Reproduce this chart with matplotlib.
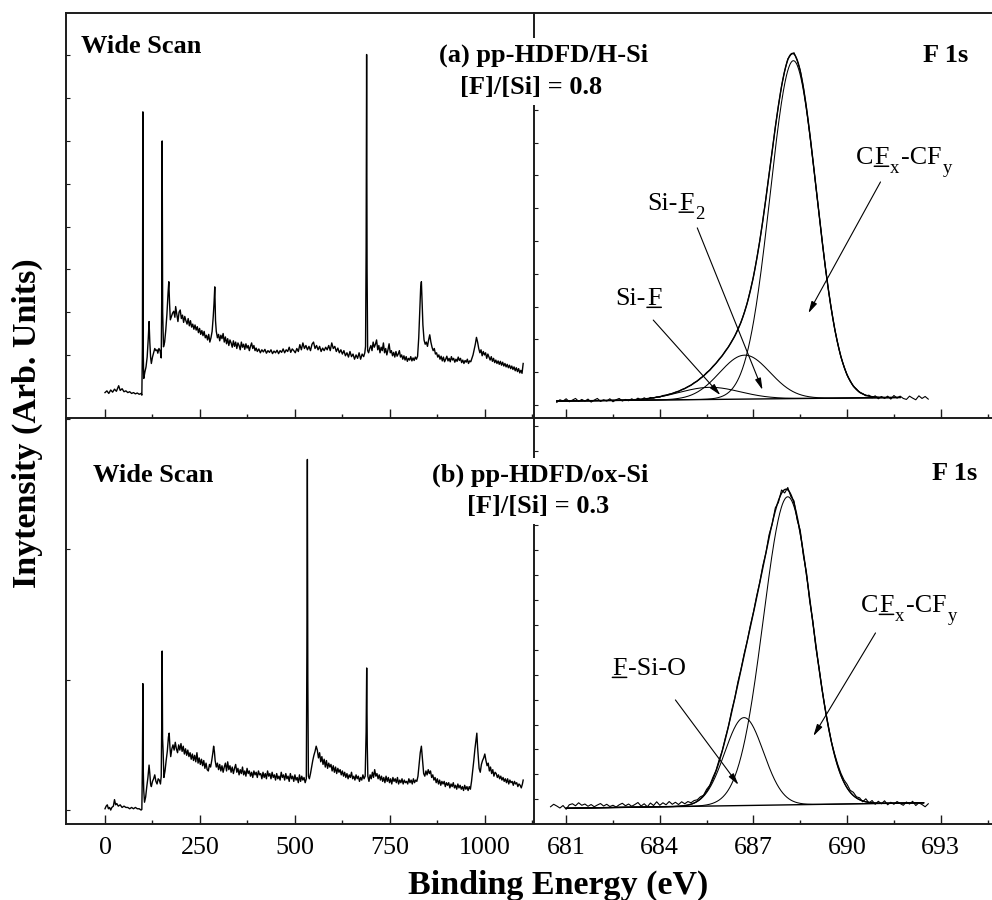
import numpy as np
import matplotlib
matplotlib.use("Agg")
import matplotlib.pyplot as plt
from matplotlib.ticker import MultipleLocator, FuncFormatter

plt.rcParams['font.family'] = ['Liberation Serif', 'DejaVu Serif']

# ---------------- wide scans: (binding energy / eV, intensity) ----------------
wide_a = [
    (0, .12), (5, .16), (10, .10), (15, .18), (20, .13), (25, .20), (30, .15), (36, .28), (40, .17), (45, .21),
    (50, .14), (55, .16), (60, .12), (65, .14), (70, .10), (75, .12), (80, .09), (85, .11), (90, .08), (95, .10),
    (97, .06), (98.5, 1.2), (99.7, 6.68), (100.8, 1.0), (102, .45), (105, .60), (108, .72), (111, .95), (114, 1.40), (116, 1.78),
    (118, 1.30), (120, .95), (122, .80), (125, .95), (128, 1.05), (131, 1.15), (134, 1.10), (137, 1.12), (139, 1.04), (142, 1.15),
    (145, 1.10), (148, .93), (149.5, 2.5), (150.5, 6.00), (151.8, 2.0), (154, 1.19), (157, 1.30), (160, 1.58), (163, 1.95), (166, 2.45),
    (168, 2.71), (170, 2.20), (172, 1.82), (175, 1.90), (178, 1.98), (181, 2.02), (184, 1.88), (186, 2.13), (189, 1.95), (192, 1.78),
    (195, 2.00), (198, 2.05), (201, 1.85), (204, 1.93), (207, 1.76), (210, 1.90), (213, 1.80), (216, 1.72), (219, 1.85), (222, 1.68),
    (225, 1.80), (228, 1.65), (231, 1.72), (234, 1.60), (237, 1.70), (240, 1.58), (243, 1.66), (246, 1.52), (249, 1.62), (252, 1.48),
    (255, 1.57), (258, 1.45), (261, 1.55), (264, 1.40), (267, 1.46), (270, 1.35), (273, 1.48), (276, 1.30), (279, 1.40), (282, 1.55),
    (285, 1.90), (287, 2.20), (289, 2.59), (291, 1.80), (293, 1.55), (296, 1.40), (299, 1.48), (302, 1.33), (305, 1.46), (308, 1.38),
    (311, 1.50), (314, 1.30), (317, 1.42), (320, 1.26), (323, 1.38), (326, 1.22), (329, 1.35), (332, 1.28), (335, 1.18), (338, 1.33),
    (341, 1.20), (344, 1.30), (347, 1.15), (350, 1.28), (353, 1.22), (356, 1.12), (359, 1.30), (362, 1.18), (365, 1.25), (368, 1.13),
    (371, 1.26), (374, 1.16), (377, 1.22), (380, 1.10), (383, 1.20), (386, 1.28), (389, 1.15), (392, 1.22), (395, 1.10), (398, 1.16),
    (401, 1.08), (405, 1.14), (409, 1.05), (413, 1.12), (417, 1.07), (421, 1.13), (425, 1.04), (429, 1.10), (433, 1.06), (437, 1.12),
    (441, 1.03), (445, 1.09), (449, 1.05), (453, 1.11), (457, 1.03), (461, 1.10), (465, 1.06), (469, 1.14), (473, 1.05), (477, 1.12),
    (481, 1.08), (485, 1.18), (489, 1.06), (493, 1.14), (497, 1.10), (501, 1.05), (505, 1.15), (509, 1.08), (513, 1.24), (517, 1.12),
    (521, 1.28), (525, 1.15), (529, 1.22), (533, 1.12), (537, 1.20), (541, 1.10), (545, 1.25), (549, 1.30), (553, 1.15), (557, 1.22),
    (561, 1.12), (565, 1.20), (569, 1.08), (573, 1.16), (577, 1.10), (581, 1.18), (585, 1.12), (589, 1.22), (593, 1.10), (597, 1.28),
    (601, 1.15), (605, 1.20), (609, 1.08), (613, 1.16), (617, 1.05), (621, 1.12), (625, 1.02), (629, 1.10), (633, .98), (637, 1.05),
    (641, .95), (645, 1.08), (649, .96), (653, 1.02), (657, .90), (661, 1.00), (665, .92), (669, 1.05), (673, .90), (677, 1.02),
    (681, .96), (684, 1.05), (686, 1.20), (687.5, 3.5), (688.8, 8.02), (690, 3.0), (691.5, 1.10), (694, 1.05), (697, 1.15), (700, 1.22),
    (703, 1.10), (706, 1.30), (709, 1.18), (712, 1.25), (715, 1.35), (718, 1.12), (721, 1.22), (724, 1.05), (727, 1.18), (730, 1.10),
    (733, 1.28), (736, 1.05), (739, 1.15), (742, 1.00), (745, 1.12), (748, 1.26), (751, 1.05), (754, 1.10), (757, .98), (760, 1.06),
    (763, .95), (766, 1.08), (769, .97), (772, 1.02), (775, 1.10), (778, .95), (781, 1.00), (784, .90), (787, .98), (790, .88),
    (793, .96), (796, .85), (799, .92), (802, .88), (805, .96), (808, .86), (811, .93), (814, .87), (817, .95), (820, .90),
    (823, .97), (826, 1.40), (829, 2.10), (831, 2.55), (833, 2.71), (835, 2.20), (837, 1.70), (840, 1.35), (843, 1.25), (846, 1.30),
    (849, 1.20), (852, 1.35), (855, 1.47), (858, 1.30), (861, 1.18), (864, 1.10), (867, 1.15), (870, 1.02), (873, 1.05), (876, .95),
    (879, 1.00), (882, .90), (885, .97), (888, .86), (891, .95), (894, .84), (897, .90), (900, .97), (903, .86), (906, .92),
    (909, .84), (912, .96), (915, .88), (918, .92), (921, .83), (924, .90), (927, .85), (930, .95), (933, .87), (936, .92),
    (939, .82), (942, .88), (945, .80), (948, .87), (951, .83), (954, .90), (957, .80), (960, .86), (963, .84), (966, .92),
    (969, 1.00), (972, 1.12), (975, 1.25), (978, 1.41), (981, 1.30), (984, 1.15), (987, 1.05), (990, 1.12), (993, .98), (996, 1.08),
    (999, 1.00), (1002, 1.05), (1005, .92), (1008, 1.02), (1011, .95), (1014, .88), (1017, .96), (1020, .85), (1023, .92), (1026, .82),
    (1029, .88), (1032, .80), (1035, .86), (1038, .78), (1041, .85), (1044, .76), (1047, .83), (1050, .74), (1053, .80), (1056, .72),
    (1059, .78), (1062, .70), (1065, .76), (1068, .68), (1071, .74), (1074, .66), (1077, .72), (1080, .63), (1083, .70), (1086, .61),
    (1089, .68), (1092, .58), (1095, .64), (1098, .57), (1101, .80),
]

wide_b = [
    (0, .01), (3, .03), (6, .04), (9, .01), (12, .02), (15, .00), (18, .02), (22, .03), (25, .08), (28, .04),
    (31, .05), (35, .03), (40, .04), (45, .02), (50, .03), (55, .02), (60, .02), (65, .01), (70, .02), (75, .01),
    (80, .02), (85, .01), (90, .01), (95, .00), (97, .005), (98.5, .35), (99.7, .97), (100.8, .30), (102, .15), (104, .06),
    (107, .10), (110, .18), (113, .25), (116, .345), (118, .28), (120, .20), (122, .18), (125, .22), (128, .24), (131, .27),
    (134, .22), (137, .20), (140, .24), (143, .23), (146, .20), (148, .26), (149.5, .70), (150.5, 1.22), (151.6, .55), (153, .45),
    (155, .25), (158, .30), (161, .38), (164, .45), (167, .56), (169, .59), (171, .48), (173, .41), (176, .47), (179, .50),
    (182, .46), (185, .52), (188, .47), (191, .44), (194, .50), (197, .46), (200, .51), (203, .45), (206, .49), (209, .43),
    (212, .47), (215, .42), (218, .46), (221, .41), (224, .44), (227, .39), (230, .43), (233, .38), (236, .42), (239, .37),
    (242, .44), (245, .36), (248, .40), (251, .35), (254, .39), (257, .34), (260, .38), (263, .32), (266, .36), (269, .31),
    (272, .30), (275, .35), (278, .33), (281, .38), (284, .44), (286, .49), (288, .45), (290, .38), (293, .33), (296, .36),
    (299, .31), (302, .35), (305, .30), (308, .34), (311, .29), (314, .33), (317, .36), (320, .30), (323, .37), (326, .31),
    (329, .34), (332, .29), (335, .33), (338, .28), (341, .32), (344, .35), (347, .29), (350, .32), (353, .27), (356, .31),
    (359, .28), (362, .33), (365, .27), (368, .30), (371, .26), (374, .32), (377, .28), (380, .30), (383, .26), (386, .29),
    (389, .25), (392, .30), (395, .27), (398, .29), (401, .25), (404, .30), (407, .27), (410, .28), (413, .24), (416, .29),
    (419, .25), (422, .28), (425, .24), (428, .30), (431, .26), (434, .28), (437, .24), (440, .29), (443, .25), (446, .27),
    (449, .23), (452, .28), (455, .24), (458, .26), (461, .23), (464, .29), (467, .25), (470, .27), (473, .23), (476, .28),
    (479, .24), (482, .26), (485, .22), (488, .28), (491, .24), (494, .26), (497, .22), (500, .27), (503, .23), (506, .25),
    (509, .21), (512, .27), (515, .22), (518, .26), (521, .23), (524, .25), (527, .21), (530, .24), (531.5, 1.2), (532.8, 2.69),
    (534, 1.0), (535.5, .26), (538, .24), (541, .28), (544, .33), (547, .38), (550, .42), (553, .45), (556, .49), (559, .46),
    (562, .40), (565, .44), (568, .37), (571, .41), (574, .35), (577, .39), (580, .33), (583, .38), (586, .32), (589, .36),
    (592, .33), (595, .35), (598, .30), (601, .34), (604, .29), (607, .33), (610, .28), (613, .32), (616, .29), (619, .31),
    (622, .27), (625, .30), (628, .26), (631, .29), (634, .25), (637, .28), (640, .24), (643, .27), (646, .25), (649, .29),
    (652, .24), (655, .26), (658, .23), (661, .27), (664, .24), (667, .26), (670, .22), (673, .25), (676, .23), (679, .27),
    (682, .24), (685, .26), (687.5, .60), (689, 1.09), (690.5, .50), (692, .26), (695, .22), (698, .27), (701, .24), (704, .29),
    (707, .25), (710, .31), (713, .26), (716, .28), (719, .24), (722, .27), (725, .23), (728, .26), (731, .22), (734, .25),
    (737, .21), (740, .26), (743, .22), (746, .25), (749, .21), (752, .24), (755, .20), (758, .25), (761, .22), (764, .24),
    (767, .21), (770, .25), (773, .20), (776, .23), (779, .21), (782, .24), (785, .20), (788, .23), (791, .21), (794, .22),
    (797, .20), (800, .24), (803, .21), (806, .23), (809, .20), (812, .24), (815, .21), (818, .23), (821, .22), (824, .26),
    (827, .35), (830, .44), (833, .49), (836, .38), (839, .28), (842, .26), (845, .30), (848, .27), (851, .31), (854, .28),
    (857, .30), (860, .25), (863, .27), (866, .23), (869, .25), (872, .21), (875, .24), (878, .20), (881, .23), (884, .19),
    (887, .22), (890, .20), (893, .22), (896, .18), (899, .21), (902, .19), (905, .21), (908, .17), (911, .20), (914, .18),
    (917, .21), (920, .17), (923, .19), (926, .16), (929, .20), (932, .17), (935, .19), (938, .16), (941, .18), (944, .15),
    (947, .19), (950, .16), (953, .18), (956, .15), (959, .18), (962, .16), (965, .22), (968, .30), (971, .38), (974, .47),
    (977, .54), (979, .59), (981, .48), (983, .40), (985, .32), (988, .29), (991, .35), (994, .38), (997, .40), (1000, .43),
    (1003, .38), (1006, .34), (1009, .36), (1012, .30), (1015, .33), (1018, .28), (1021, .31), (1024, .26), (1027, .29), (1030, .28),
    (1033, .25), (1036, .27), (1039, .24), (1042, .26), (1045, .23), (1048, .25), (1051, .22), (1054, .24), (1057, .21), (1060, .24),
    (1063, .20), (1066, .23), (1069, .21), (1072, .22), (1075, .19), (1078, .22), (1081, .20), (1084, .21), (1087, .18), (1090, .20),
    (1093, .19), (1096, .17), (1099, .20), (1101, .23),
]

# ---------------- F 1s high-resolution spectra (0.1 eV steps) ----------------
f1s_a_start, f1s_a_step = 680.7, 0.1
f1s_a_counts = [
    .08, .16, .12, .19, .10, .15, .20, .11, .17, .12,
    .18, .09, .15, .20, .11, .16, .12, .19, .10, .16,
    .20, .12, .17, .13, .19, .14, .21, .15, .22, .17,
    .23, .21, .25, .24, .29, .30, .33, .35, .39, .41,
    .47, .50, .56, .60, .68, .73, .82, .88, .99, 1.06,
    1.18, 1.27, 1.40, 1.50, 1.65, 1.77, 1.94, 2.10, 2.31, 2.52,
    2.80, 3.11, 3.50, 3.91, 4.43, 4.99, 5.62, 6.31, 7.03, 7.74,
    8.47, 9.12, 9.72, 10.18, 10.55, 10.68, 10.74, 10.50, 10.20, 9.68,
    9.05, 8.31, 7.51, 6.67, 5.83, 5.00, 4.23, 3.52, 2.90, 2.33,
    1.88, 1.47, 1.18, .91, .74, .57, .49, .38, .35, .28,
    .30, .22, .28, .19, .26, .20, .27, .18, .29, .21,
    .27, .20, .17, .27, .21, .16, .28, .20, .26, .18,
]

f1s_b_start, f1s_b_step = 680.5, 0.1
f1s_b_counts = [
    -.30, -.20, -.27, -.35, -.25, -.40, -.22, -.18, -.26, -.14,
    -.24, -.19, -.28, -.21, -.30, -.23, -.17, -.27, -.20, -.29,
    -.24, -.31, -.22, -.16, -.26, -.19, -.28, -.21, -.13, -.27,
    -.18, -.30, -.15, -.25, -.10, -.24, -.14, -.22, -.09, -.20,
    -.12, -.21, -.10, -.18, -.09, -.14, -.05, -.02, .10, .16,
    .40, .56, .88, 1.16, 1.58, 1.95, 2.47, 2.93, 3.55, 4.05,
    4.70, 5.22, 5.83, 6.35, 6.98, 7.52, 8.15, 8.70, 9.38, 9.90,
    10.62, 11.05, 11.70, 11.92, 12.42, 12.30, 12.52, 12.15, 11.98, 11.22,
    10.80, 9.78, 9.10, 7.96, 7.18, 6.08, 5.30, 4.40, 3.62, 2.95,
    2.30, 1.82, 1.40, 1.05, .78, .60, .36, .28, .10, .06,
    -.10, .02, -.15, -.05, -.20, -.08, -.18, -.06, -.22, -.12,
    -.20, -.09, -.17, -.24, -.11, -.19, -.08, -.25, -.14, -.21,
    -.30, -.18,
]

# ---------------- F 1s curve-fit parameters (Gaussian components) ----------------
fit_a_center = [688.28, 686.72, 685.60]   # CFx-CFy, Si-F2, Si-F
fit_a_height = [10.30, 1.34, 0.37]
fit_a_fwhm = [1.75, 1.90, 2.30]
fit_a_base_ev = [680.7, 691.7]
fit_a_base_level = [0.12, 0.23]

fit_b_center = [688.10, 686.70]           # CFx-CFy, F-Si-O
fit_b_height = [12.37, 3.53]
fit_b_fwhm = [1.84, 1.46]
fit_b_base_ev = [681.0, 692.45]
fit_b_base_level = [-0.36, -0.14]

# ---------------- figure layout ----------------
W, H = 992, 900
fig = plt.figure(figsize=(W / 100, H / 100), dpi=100)
fig.patch.set_facecolor('white')
INK = '#1c1c1c'


def panel(x0, y0, x1, y1):
    ax = fig.add_axes([x0 / W, 1 - y1 / H, (x1 - x0) / W, (y1 - y0) / H])
    ax.set_facecolor('none')
    for s in ax.spines.values():
        s.set_linewidth(1.4)
        s.set_color(INK)
    ax.tick_params(which='both', direction='in', top=False, right=False,
                   color=INK, labelcolor='black')
    ax.tick_params(axis='x', which='major', length=6.5, width=1.0,
                   labelsize=18.7, pad=9)
    ax.tick_params(axis='x', which='minor', length=3.2, width=1.0)
    ax.tick_params(axis='y', which='major', length=3.0, width=0.8,
                   labelleft=False)
    ax.yaxis.set_major_locator(MultipleLocator(1))
    return ax


ax_wa = panel(66, 13, 534, 418)
ax_fa = panel(534, 13, 1050, 418)
ax_wb = panel(66, 418, 534, 824)
ax_fb = panel(534, 418, 1050, 824)

for ax in (ax_wa, ax_fa):
    ax.spines['right'].set_visible(False)
    ax.tick_params(axis='x', labelbottom=False)
for ax in (ax_wb, ax_fb):
    ax.spines['right'].set_visible(False)
    ax.spines['top'].set_visible(False)

for ax in (ax_wa, ax_wb):
    ax.set_xlim(-102.7, 1129.5)
    ax.xaxis.set_major_locator(MultipleLocator(250))
    ax.xaxis.set_minor_locator(MultipleLocator(125))
    ax.xaxis.set_major_formatter(FuncFormatter(lambda v, p: '%d' % round(v)))
for ax in (ax_fa, ax_fb):
    ax.set_xlim(679.97, 696.5)
    ax.xaxis.set_major_locator(MultipleLocator(3))
    ax.xaxis.set_minor_locator(MultipleLocator(1.5))
    # the frame runs on past the right edge of the page; label up to 693 only
    ax.xaxis.set_major_formatter(
        FuncFormatter(lambda v, p: '%d' % round(v) if v < 694 else ''))

ax_wa.set_ylim(-0.474, 8.99)
ax_wb.set_ylim(-0.107, 3.008)
ax_fa.set_ylim(-0.396, 11.95)
ax_fb.set_ylim(-0.992, 15.31)

# ---------------- wide scans ----------------
for ax, scan in ((ax_wa, wide_a), (ax_wb, wide_b)):
    ev, cts = zip(*scan)
    ax.plot(ev, cts, color='black', lw=1.0)


# ---------------- F 1s data and fits ----------------
def gaussian(e, center, height, fwhm):
    return height * np.exp(-4 * np.log(2) * (e - center) ** 2 / fwhm ** 2)


def draw_fit(ax, centers, heights, fwhms, base_ev, base_level):
    e = np.linspace(base_ev[0], base_ev[1], 900)
    slope = (base_level[1] - base_level[0]) / (base_ev[1] - base_ev[0])
    base = base_level[0] + slope * (e - base_ev[0])
    total = np.zeros_like(e)
    ax.plot(e, base, color='black', lw=1.0)
    for c, h, w in zip(centers, heights, fwhms):
        g = gaussian(e, c, h, w)
        total += g
        ax.plot(e, base + g, color='black', lw=0.75)
    ax.plot(e, base + total, color='black', lw=1.0)


for ax, start, step, counts in ((ax_fa, f1s_a_start, f1s_a_step, f1s_a_counts),
                                (ax_fb, f1s_b_start, f1s_b_step, f1s_b_counts)):
    e = start + step * np.arange(len(counts))
    ax.plot(e, counts, color='black', lw=0.8)

draw_fit(ax_fa, fit_a_center, fit_a_height, fit_a_fwhm, fit_a_base_ev, fit_a_base_level)
draw_fit(ax_fb, fit_b_center, fit_b_height, fit_b_fwhm, fit_b_base_ev, fit_b_base_level)


# ---------------- component labels (underlined F, subscripts) ----------------
def rich_label(ax, x, y, parts, size=18.7, sub_size=13.5):
    first = prev = None
    for txt, kind in parts:
        fs = sub_size if kind == 's' else size
        if first is None:
            t = ax.text(x, y, txt, fontsize=fs, ha='left', va='baseline')
            first = t
        else:
            dy = -6.0 if kind == 's' else 0.0
            t = ax.annotate(txt, xy=(1, 0), xycoords=(prev, first),
                            xytext=(1.0, dy), textcoords='offset points',
                            fontsize=fs, ha='left', va='bottom',
                            annotation_clip=False)
        if kind == 'u':
            ax.annotate('', xy=(0, 0.12), xycoords=t, xytext=(1, 0.12),
                        textcoords=t, annotation_clip=False,
                        arrowprops=dict(arrowstyle='-', lw=1.1, color='black',
                                        shrinkA=0, shrinkB=0))
        prev = t


def pointer(ax, start, end):
    ax.annotate('', xy=end, xytext=start, annotation_clip=False,
                arrowprops=dict(arrowstyle='-|>,head_length=0.7,head_width=0.18',
                                lw=0.8, color='black', shrinkA=0, shrinkB=0))


cf_parts = [("C", 'n'), ("F", 'u'), ("x", 's'), ("-CF", 'n'), ("y", 's')]

rich_label(ax_fa, 682.57, 3.05, [("Si-", 'n'), ("F", 'u')])
rich_label(ax_fa, 683.60, 5.95, [("Si-", 'n'), ("F", 'u'), ("2", 's')])
rich_label(ax_fa, 690.27, 7.35, cf_parts)
pointer(ax_fa, (683.79, 2.59), (685.94, 0.30))
pointer(ax_fa, (685.20, 5.40), (687.29, 0.46))
pointer(ax_fa, (691.07, 6.80), (688.76, 2.80))

rich_label(ax_fb, 682.48, 4.99, [("F", 'u'), ("-Si-O", 'n')])
rich_label(ax_fb, 690.43, 7.52, cf_parts)
pointer(ax_fb, (684.50, 3.99), (686.52, 0.58))
pointer(ax_fb, (690.91, 6.68), (688.92, 2.54))


# ---------------- panel titles and axis labels ----------------
def ftext(xpx, ypx, s, **kw):
    return fig.text(xpx / W, 1 - ypx / H, s, **kw)


bold = dict(fontsize=19, fontweight='bold', ha='left', va='baseline')
white = dict(facecolor='white', edgecolor='none', pad=4)

ftext(81, 53, "Wide Scan", **bold)
ftext(439, 62, "(a) pp-HDFD/H-Si", bbox=white, **bold)
ftext(460, 94, "[F]/[Si] = 0.8", bbox=white, **bold)
ftext(923, 62, "F 1s", **bold)

ftext(93, 482, "Wide Scan", **bold)
ftext(432, 482, "(b) pp-HDFD/ox-Si", bbox=white, **bold)
ftext(467, 513, "[F]/[Si] = 0.3", bbox=white, **bold)
ftext(932, 480, "F 1s", **bold)

ftext(27, 423, "Inytensity (Arb. Units)", rotation=90, fontsize=24.5,
      fontweight='bold', ha='center', va='center')
ftext(558, 885, "Binding Energy (eV)", fontsize=24.5, fontweight='bold',
      ha='center', va='center')

fig.savefig("out.png", dpi=100, facecolor='white')
